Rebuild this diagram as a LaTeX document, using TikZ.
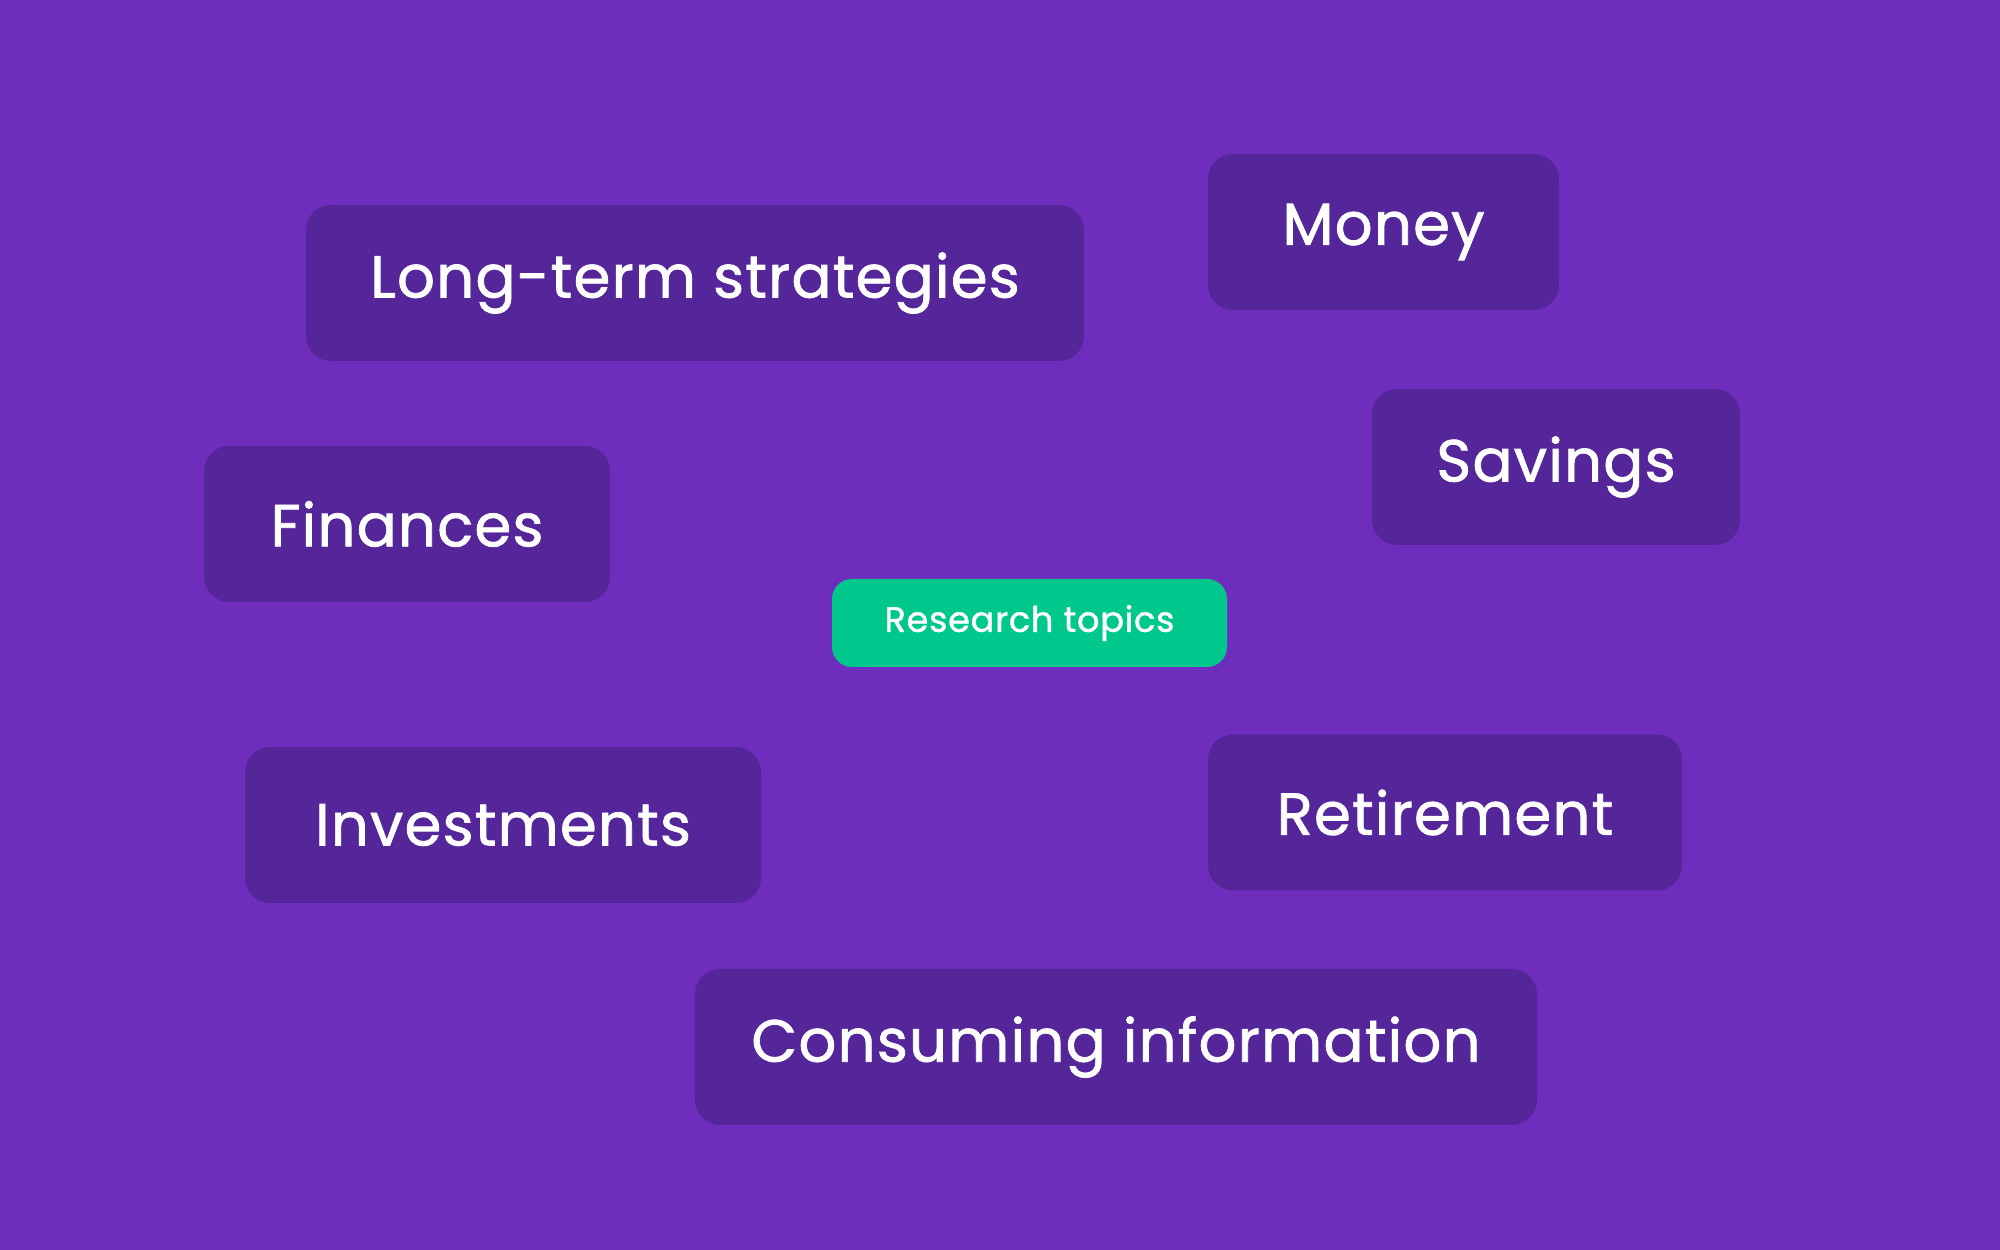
\documentclass[tikz,border=0pt]{standalone}
\usepackage{fontspec}
\setmainfont{Poppins}[FakeBold=1.2, LetterSpace=2]
\definecolor{bgpurple}{HTML}{6F2DBD}
\definecolor{boxpurple}{HTML}{55269A}
\definecolor{topicgreen}{HTML}{00C88C}
\tikzset{
  topic/.style={fill=boxpurple, rounded corners=0.25cm, text=white, minimum height=1.56cm,
    font=\fontsize{16.9}{20}\selectfont},
  centre/.style={fill=topicgreen, rounded corners=0.2cm, text=white, minimum height=0.88cm,
    minimum width=3.95cm, font=\fontsize{10}{12}\selectfont}
}
\begin{document}
\begin{tikzpicture}
\fill[bgpurple] (0,0) rectangle (20,12.5);
\useasboundingbox (0,0) rectangle (20,12.5);
\node[topic, minimum width=7.78cm] (longterm) at (6.95,9.67) {Long-term strategies};
\node[topic, minimum width=3.51cm] (money) at (13.835,10.18) {Money};
\node[topic, minimum width=3.68cm] (savings) at (15.56,7.83) {Savings};
\node[topic, minimum width=4.06cm] (finances) at (4.07,7.26) {Finances};
\node[centre] (research) at (10.295,6.27) {Research topics};
\node[topic, minimum width=5.16cm] (investments) at (5.03,4.25) {Investments};
\node[topic, minimum width=4.74cm] (retirement) at (14.45,4.375) {Retirement};
\node[topic, minimum width=8.42cm] (consuming) at (11.16,2.03) {Consuming information};
\end{tikzpicture}
\end{document}
